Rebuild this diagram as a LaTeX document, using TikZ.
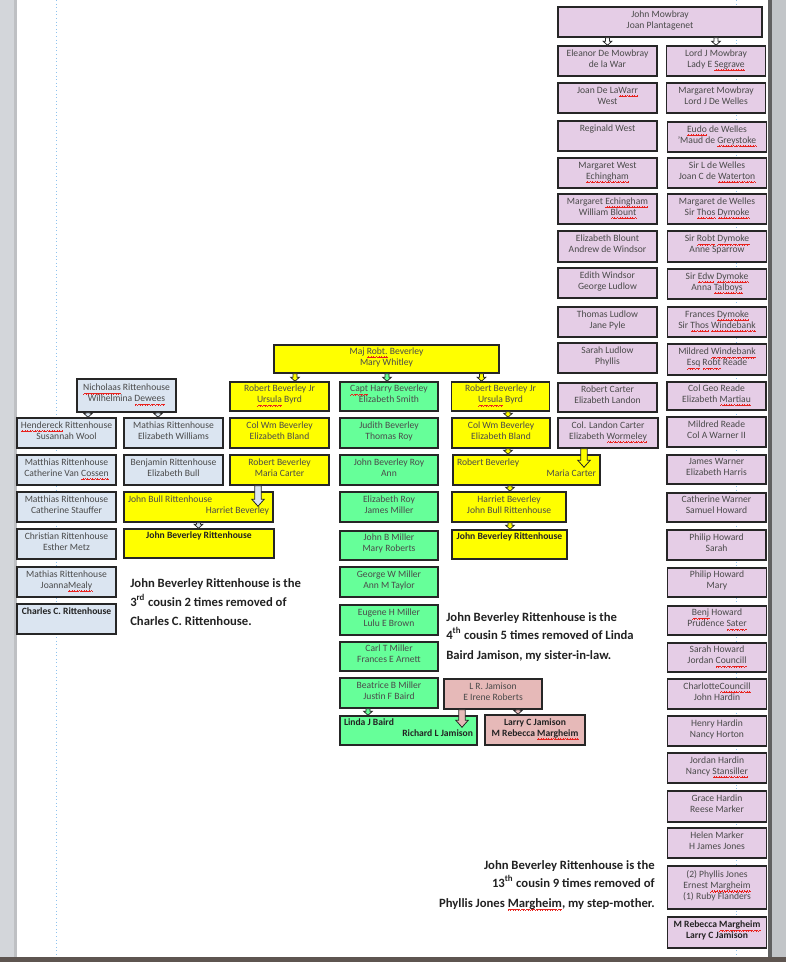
\documentclass[tikz,border=0pt]{standalone}
\usepackage{fontspec}
\setmainfont{Carlito}
\usetikzlibrary{calc}
\definecolor{pinkb}{HTML}{E5CDE6}
\definecolor{yelb}{HTML}{FFFF00}
\definecolor{greenb}{HTML}{66FF99}
\definecolor{blueb}{HTML}{DBE5F1}
\definecolor{salb}{HTML}{E6B9B8}
\definecolor{boxline}{HTML}{262626}
\definecolor{boxtext}{HTML}{4A4A4A}
\definecolor{sttext}{HTML}{222222}
\definecolor{guideblue}{HTML}{8EC2EE}
\definecolor{sqred}{HTML}{E8231F}
\definecolor{pagegray}{HTML}{D3D6DA}
\definecolor{framedark}{HTML}{5E5550}
\newsavebox\sqbox
% red wavy spell-check underline, built from tiny rules
\newcommand\sq[1]{\sbox\sqbox{#1}\makebox[0pt][l]{\color{sqred}\hbox to\wd\sqbox{\xleaders\hbox{\rule[-2.7pt]{0.45pt}{0.5pt}\rule[-2.3pt]{0.45pt}{0.5pt}\rule[-1.9pt]{0.45pt}{0.5pt}\rule[-2.3pt]{0.45pt}{0.5pt}}\hfill}}\usebox\sqbox}
\newcommand\boxfont{\fontsize{7.2}{8.25}\selectfont}
\newcommand\stfont{\fontsize{9.5}{11}\selectfont\bfseries}
% two lines: first flush left, second flush right, in a given width
\newcommand\lrlines[3]{\makebox[#1][l]{#2}\\\makebox[#1][r]{#3}}
% block arrow: shaft half width, head half width, head length, style, start, end
\newcommand\blockarr[6]{%
 \draw[#4] let \p1=#5, \p2=#6 in (\x1-#1,\y1) -- (\x1-#1,\y2+#3) -- (\x1-#2,\y2+#3) -- (\x1,\y2) -- (\x1+#2,\y2+#3) -- (\x1+#1,\y2+#3) -- (\x1+#1,\y1) -- cycle;}
\newcommand\sarr[3]{\blockarr{1.5pt}{3.2pt}{3pt}{arrowsty,fill=#1}{#2}{#3}}
\newcommand\warr[3]{\blockarr{2.4pt}{4.6pt}{5.2pt}{arrowsty,fill=#1}{#2}{#3}}
\tikzset{
 box/.style={draw=boxline, line width=1.1pt, inner sep=0pt, align=center, text=boxtext, font=\boxfont, text depth=3.6pt, minimum width=99*0.75pt, minimum height=30*0.75pt},
 pinkbox/.style={box, fill=pinkb},
 yelbox/.style={box, fill=yelb},
 greenbox/.style={box, fill=greenb},
 bluebox/.style={box, fill=blueb},
 salbox/.style={box, fill=salb},
 arrowsty/.style={draw=boxline, line width=0.6pt},
 guide/.style={draw=guideblue, dotted, line width=0.7pt},
 stl/.style={font=\stfont, text=sttext, inner sep=0pt, anchor=base west},
 str/.style={font=\stfont, text=sttext, inner sep=0pt, anchor=base east},
}
\begin{document}
\begin{tikzpicture}[x=0.75pt,y=-0.75pt]
\useasboundingbox (0,0) rectangle (786,962);
\fill[white] (0,0) rectangle (786,962);
% page frame
\fill[pagegray] (0,0) rectangle (17,962);
\fill[pagegray!75!gray] (14,0) rectangle (17,957);
\fill[pagegray!80!gray] (768,0) rectangle (786,962);
\fill[gray!75!black] (768,0) rectangle (772,957);
\fill[framedark] (0,957) rectangle (786,962);
\draw[guide] (56,0) -- (56,957);
\draw[guide] (736,0) -- (736,957);

% ---------- Mowbray line (pink) ----------
\node[pinkbox, minimum width=204*0.75pt] (mow) at (660,22) {John Mowbray\\Joan Plantagenet};
\node[pinkbox] (e1) at (607.5,61) {Eleanor De Mowbray\\de la War};
\node[pinkbox] (e2) at (607.5,98) {Joan De La\sq{Warr}\\West};
\node[pinkbox] (e3) at (607.5,136) {Reginald West\\\mbox{}};
\node[pinkbox] (e4) at (607.5,173) {Margaret West\\\sq{Echingham}};
\node[pinkbox] (e5) at (607.5,209) {Margaret \sq{Echingham}\\William \sq{Blount}};
\node[pinkbox, minimum height=31*0.75pt] (e6) at (607.5,246.5) {Elizabeth Blount\\Andrew de Windsor};
\node[pinkbox] (e7) at (607.5,283) {Edith Windsor\\George Ludlow};
\node[pinkbox] (e8) at (607.5,322) {Thomas Ludlow\\Jane Pyle};
\node[pinkbox] (e9) at (607.5,358) {Sarah Ludlow\\Phyllis};
\node[pinkbox, minimum height=29*0.75pt] (e10) at (607.5,397.5) {Robert Carter\\Elizabeth Landon};
\node[pinkbox, minimum width=100*0.75pt] (e11) at (608,433) {Col. Landon Carter\\Elizabeth \sq{Wormeley}};

\node[pinkbox] (l1) at (716,61) {Lord J Mowbray\\Lady E \sq{Segrave}};
\node[pinkbox] (l2) at (716,98) {Margaret Mowbray\\Lord J De Welles};
\node[pinkbox] (l3) at (717,137) {\sq{Eudo} de Welles\\'Maud de \sq{Greystoke}};
\node[pinkbox] (l4) at (717,173) {Sir L de Welles\\Joan C de \sq{Waterton}};
\node[pinkbox] (l5) at (717,209) {Margaret de Welles\\Sir \sq{Thos} \sq{Dymoke}};
\node[pinkbox, minimum height=31*0.75pt] (l6) at (717,246.5) {Sir \sq{Robt} \sq{Dymoke}\\Anne Sparrow};
\node[pinkbox] (l7) at (717,284) {Sir \sq{Edw} \sq{Dymoke}\\Anna \sq{Talboys}};
\node[pinkbox] (l8) at (717,322) {Frances \sq{Dymoke}\\Sir \sq{Thos} \sq{Windebank}};
\node[pinkbox, minimum height=31*0.75pt] (l9) at (717,359.5) {Mildred \sq{Windebank}\\\sq{Esq} \sq{Robt} Reade};
\node[pinkbox, minimum height=28*0.75pt] (l10) at (716.5,396) {Col Geo Reade\\Elizabeth \sq{Martiau}};
\node[pinkbox] (l11) at (716.5,432) {Mildred  Reade\\Col A Warner II};
\node[pinkbox, minimum height=29*0.75pt] (l12) at (716.5,469.5) {James Warner\\Elizabeth Harris};
\node[pinkbox, minimum height=29*0.75pt] (l13) at (716.5,507.5) {Catherine Warner\\Samuel Howard};
\node[pinkbox] (l14) at (716.5,545) {Philip Howard\\Sarah};
\node[pinkbox, minimum height=29*0.75pt] (l15) at (717,582.5) {Philip Howard\\Mary};
\node[pinkbox, minimum height=29*0.75pt] (l16) at (717,620.5) {\sq{Benj} Howard\\Prudence \sq{Sater}};
\node[pinkbox, minimum height=29*0.75pt] (l17) at (717,657.5) {Sarah Howard\\Jordan \sq{Councill}};
\node[pinkbox] (l18) at (717,694) {Charlotte\sq{Councill}\\John Hardin};
\node[pinkbox] (l19) at (717,731) {Henry Hardin\\Nancy Horton};
\node[pinkbox] (l20) at (717,768) {Jordan Hardin\\Nancy \sq{Stansiller}};
\node[pinkbox, minimum height=31*0.75pt] (l21) at (717,806.5) {Grace Hardin\\Reese Marker};
\node[pinkbox] (l22) at (717,843) {Helen Marker\\H James Jones};
\node[pinkbox, minimum height=43*0.75pt] (l23) at (717,887.5) {(2) Phyllis Jones\\Ernest \sq{Margheim}\\(1) Ruby Flanders};
\node[pinkbox, minimum height=31*0.75pt, text=sttext] (l24) at (717,932.5) {\textbf{M Rebecca \sq{Margheim}}\\\textbf{Larry C Jamison}};

% ---------- Beverley (yellow / green) ----------
\node[yelbox, minimum width=225*0.75pt, minimum height=28*0.75pt] (maj) at (386.5,359) {Maj \sq{Robt.} Beverley\\Mary Whitley};
\node[yelbox, minimum height=29*0.75pt] (rb1) at (279.5,396.5) {Robert Beverley Jr\\\sq{Ursula} Byrd};
\node[yelbox] (cw1) at (279.5,433) {Col Wm Beverley\\Elizabeth Bland};
\node[yelbox] (rbm1) at (279.5,470) {Robert Beverley\\Maria Carter};

\node[greenbox, minimum width=98*0.75pt, minimum height=29*0.75pt] (g1) at (389,396.5) {\sq{Capt} Harry Beverley\\Elizabeth Smith};
\node[greenbox, minimum width=98*0.75pt] (g2) at (389,433) {Judith Beverley\\Thomas Roy};
\node[greenbox, minimum width=98*0.75pt] (g3) at (389,470) {John Beverley Roy\\Ann};
\node[greenbox, minimum width=98*0.75pt] (g4) at (389,507) {Elizabeth Roy\\James Miller};
\node[greenbox, minimum width=98*0.75pt, minimum height=29*0.75pt] (g5) at (389,545.5) {John B Miller\\Mary Roberts};
\node[greenbox, minimum width=98*0.75pt] (g6) at (389,582) {George W Miller\\Ann M Taylor};
\node[greenbox, minimum width=98*0.75pt] (g7) at (389,620) {Eugene H Miller\\Lulu E Brown};
\node[greenbox, minimum width=98*0.75pt, minimum height=29*0.75pt] (g8) at (389,656.5) {Carl T Miller\\Frances E Arnett};
\node[greenbox, minimum width=98*0.75pt] (g9) at (389,693) {Beatrice B Miller\\Justin F Baird};
\node[greenbox, minimum width=137*0.75pt, minimum height=29*0.75pt, font=\boxfont\bfseries, text=sttext] (lb) at (408.5,730.5) {\lrlines{96.75pt}{Linda J Baird}{Richard L Jamison}};

\node[yelbox, minimum width=98*0.75pt, minimum height=29*0.75pt] (rb2) at (500.5,396.5) {Robert Beverley Jr\\\sq{Ursula} Byrd};
\node[yelbox, minimum width=98*0.75pt] (cw2) at (501,433) {Col Wm Beverley\\Elizabeth Bland};
\node[yelbox, minimum width=147*0.75pt] (rbw) at (526.5,470) {\lrlines{104.25pt}{Robert Beverley}{Maria Carter}};
\node[yelbox, minimum width=114*0.75pt] (hb) at (509,507) {Harriet Beverley\\John Bull Rittenhouse};
\node[yelbox, minimum width=115*0.75pt, minimum height=29*0.75pt, text=sttext] (jbr2) at (509.5,544.5) {\textbf{John Beverley Rittenhouse}\\\mbox{}};

\node[salbox, minimum width=98*0.75pt] (lr) at (493,694) {L R. Jamison\\E Irene Roberts};
\node[salbox, minimum width=100*0.75pt, text=sttext] (lj) at (535,730) {\textbf{Larry C Jamison}\\\textbf{M Rebecca \sq{Margheim}}};

% ---------- Rittenhouse (blue) ----------
\node[bluebox, minimum height=33*0.75pt] (nr) at (126.5,395.5) {\sq{Nicholaas} Rittenhouse\\Wilhelmina \sq{Dewees}};
\node[bluebox] (hr) at (66.5,433) {\sq{Hendereck} Rittenhouse\\Susannah Wool};
\node[bluebox] (mc) at (66.5,470) {Matthias Rittenhouse\\Catherine Van \sq{Cossen}};
\node[bluebox] (ms) at (66.5,507) {Matthias Rittenhouse\\Catherine Stauffer};
\node[bluebox] (cr) at (66.5,544) {Christian Rittenhouse\\Esther Metz};
\node[bluebox] (mj) at (66.5,582) {Mathias Rittenhouse\\Joanna\sq{Mealy}};
\node[bluebox, text=sttext] (cc) at (66.5,619) {\textbf{Charles C. Rittenhouse}\\\mbox{}};
\node[bluebox] (mw) at (173.5,433) {Mathias Rittenhouse\\Elizabeth Williams};
\node[bluebox] (br) at (173.5,470) {Benjamin Rittenhouse\\Elizabeth Bull};
\node[yelbox, minimum width=149*0.75pt] (jbl) at (198.5,507) {\lrlines{105.75pt}{John Bull Rittenhouse}{Harriet Beverley}};
\node[yelbox, minimum width=150*0.75pt, minimum height=29*0.75pt, text=sttext] (jbr1) at (199,543.5) {\textbf{John Beverley Rittenhouse}\\\mbox{}};

% ---------- block arrows ----------
\sarr{white}{(mow.south -| e1.north)}{(e1.north)}
\sarr{white}{(mow.south -| l1.north)}{(l1.north)}
\sarr{yelb}{($(maj.south -| rb1.north)+(15.5,0)$)}{($(rb1.north)+(15.5,0)$)}
\sarr{greenb}{($(maj.south -| g1.north)+(-2,0)$)}{($(g1.north)+(-2,0)$)}
\sarr{yelb}{($(maj.south -| rb2.north)+(-19,0)$)}{($(rb2.north)+(-19,0)$)}
\sarr{yelb}{($(rb2.south)+(7.5,0)$)}{($(cw2.north -| rb2.south)+(7.5,0)$)}
\sarr{yelb}{($(cw2.south)+(7,0)$)}{($(rbw.north -| cw2.south)+(7,0)$)}
\warr{yelb}{($(e11.south)+(-24,0)$)}{($(rbw.north -| e11.south)+(-24,13)$)}
\sarr{yelb}{($(rbw.south -| hb.north)+(1,0)$)}{($(hb.north)+(1,0)$)}
\sarr{yelb}{($(hb.south)+(1,0)$)}{($(jbr2.north -| hb.south)+(1,0)$)}
\sarr{blueb}{($(nr.south -| hr.north)+(21.5,0)$)}{($(hr.north)+(21.5,0)$)}
\sarr{blueb}{($(nr.south -| mw.north)+(-15.5,0)$)}{($(mw.north)+(-15.5,0)$)}
\warr{blueb}{($(rbm1.south)+(-21.5,0)$)}{($(jbl.north -| rbm1.south)+(-21.5,15)$)}
\sarr{blueb}{(jbl.south)}{(jbr1.north -| jbl.south)}
\sarr{greenb}{($(g9.south)+(-21,0)$)}{($(lb.north -| g9.south)+(-21,0)$)}
\warr{salb}{($(lr.south)+(-31,0)$)}{($(lb.north -| lr.south)+(-31,12)$)}
\sarr{salb}{($(lr.south)+(25,0)$)}{($(lj.north -| lr.south)+(25,0)$)}

% ---------- statements ----------
\node[stl] (s1a) at (130,587) {John Beverley Rittenhouse is the};
\node[stl] (s1b) at (130,606) {3\textsuperscript{rd} cousin 2 times removed of};
\node[stl] (s1c) at (130,625) {Charles C. Rittenhouse.};
\node[stl] (s2a) at (446,621) {John Beverley Rittenhouse is the};
\node[stl] (s2b) at (446,639) {4\textsuperscript{th} cousin 5 times removed of Linda};
\node[stl] (s2c) at (446,659) {Baird Jamison, my sister-in-law.};
\node[str] (s3a) at (655,869) {John Beverley Rittenhouse is the};
\node[str] (s3b) at (655,887) {13\textsuperscript{th} cousin 9 times removed of};
\node[str] (s3c) at (655,907) {Phyllis Jones \sq{Margheim}, my step-mother.};
\end{tikzpicture}
\end{document}
